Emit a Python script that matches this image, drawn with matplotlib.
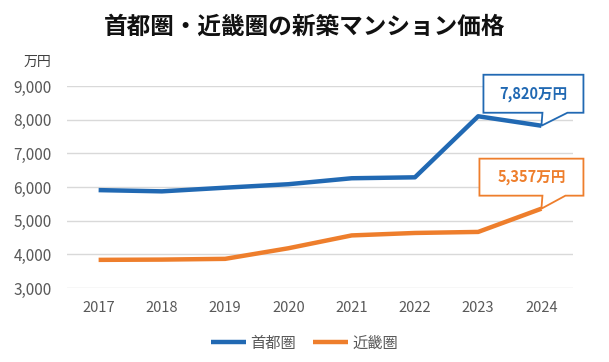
import matplotlib
matplotlib.use('Agg')
import matplotlib.pyplot as plt
import matplotlib.transforms as mtransforms
from matplotlib.patches import Polygon

plt.rcParams['font.family'] = ['Noto Sans CJK JP', 'DejaVu Sans']

years = ['2017', '2018', '2019', '2020', '2021', '2022', '2023', '2024']
shutoken = [5908, 5871, 5980, 6083, 6260, 6288, 8101, 7820]
kinki = [3836, 3844, 3866, 4181, 4562, 4635, 4666, 5357]
yticks = [3000, 4000, 5000, 6000, 7000, 8000, 9000]

BLUE = '#2169B3'
ORANGE = '#EE7E2C'
GRAY = '#595959'

fig = plt.figure(figsize=(6.09, 3.62), dpi=100)
ax = fig.add_axes([0.110, 0.2044, 0.831, 0.558])

x = range(len(years))
ax.plot(x, shutoken, color=BLUE, lw=3.2, label='首都圏', solid_capstyle='butt')
ax.plot(x, kinki, color=ORANGE, lw=3.2, label='近畿圏', solid_capstyle='butt')

ax.set_xlim(-0.5, len(years) - 0.5)
ax.set_ylim(3000, 9000)
ax.set_xticks(list(x))
ax.set_xticklabels(years)
ax.set_yticks(yticks)
ax.set_yticklabels([f'{v:,}' for v in yticks])
ax.tick_params(length=0, colors=GRAY, labelsize=10.5)
ax.tick_params(axis='y', labelsize=11, pad=11)
ax.tick_params(axis='x', pad=9)
ax.grid(axis='y', color='#D9D9D9', lw=1)
ax.set_axisbelow(True)
for s in ax.spines.values():
    s.set_visible(False)

fig.text(0.038, 0.829, '万円', fontsize=10, color='#404040', ha='left', va='center')
fig.text(0.5, 0.925, '首都圏・近畿圏の新築マンション価格', fontsize=17,
         fontweight='bold', ha='center', va='center', color='#111111')


def callout(xi, yv, text, color, left, right, bottom, top, tail_w):
    # vertices in pixels relative to the data point
    trans = (mtransforms.Affine2D().scale(1 / 100.0) + fig.dpi_scale_trans
             + mtransforms.ScaledTranslation(xi, yv, ax.transData))
    verts = [(left, bottom), (left, top), (right, top), (right, bottom),
             (tail_w, bottom), (0, 0), (1, bottom)]
    ax.add_patch(Polygon(verts, closed=True, transform=trans, fill=True,
                         facecolor='white', edgecolor=color, lw=1.3,
                         clip_on=False, zorder=5))
    ax.text((left + right) / 2, (top + bottom) / 2, text, transform=trans,
            ha='center', va='center', color=color, fontsize=10.5,
            fontweight='bold', zorder=6)


callout(7, shutoken[-1], f'{shutoken[-1]:,}万円', BLUE, -58, 42, 13, 51, 26)
callout(7, kinki[-1], f'{kinki[-1]:,}万円', ORANGE, -62, 42, 13, 50, 24)

leg = fig.legend(loc='center', bbox_to_anchor=(0.5, 0.052), ncol=2, frameon=False,
                 fontsize=11, handlelength=2.3, columnspacing=1.1, handletextpad=0.3)
for t in leg.get_texts():
    t.set_color(GRAY)

fig.savefig('out.png', dpi=100)
